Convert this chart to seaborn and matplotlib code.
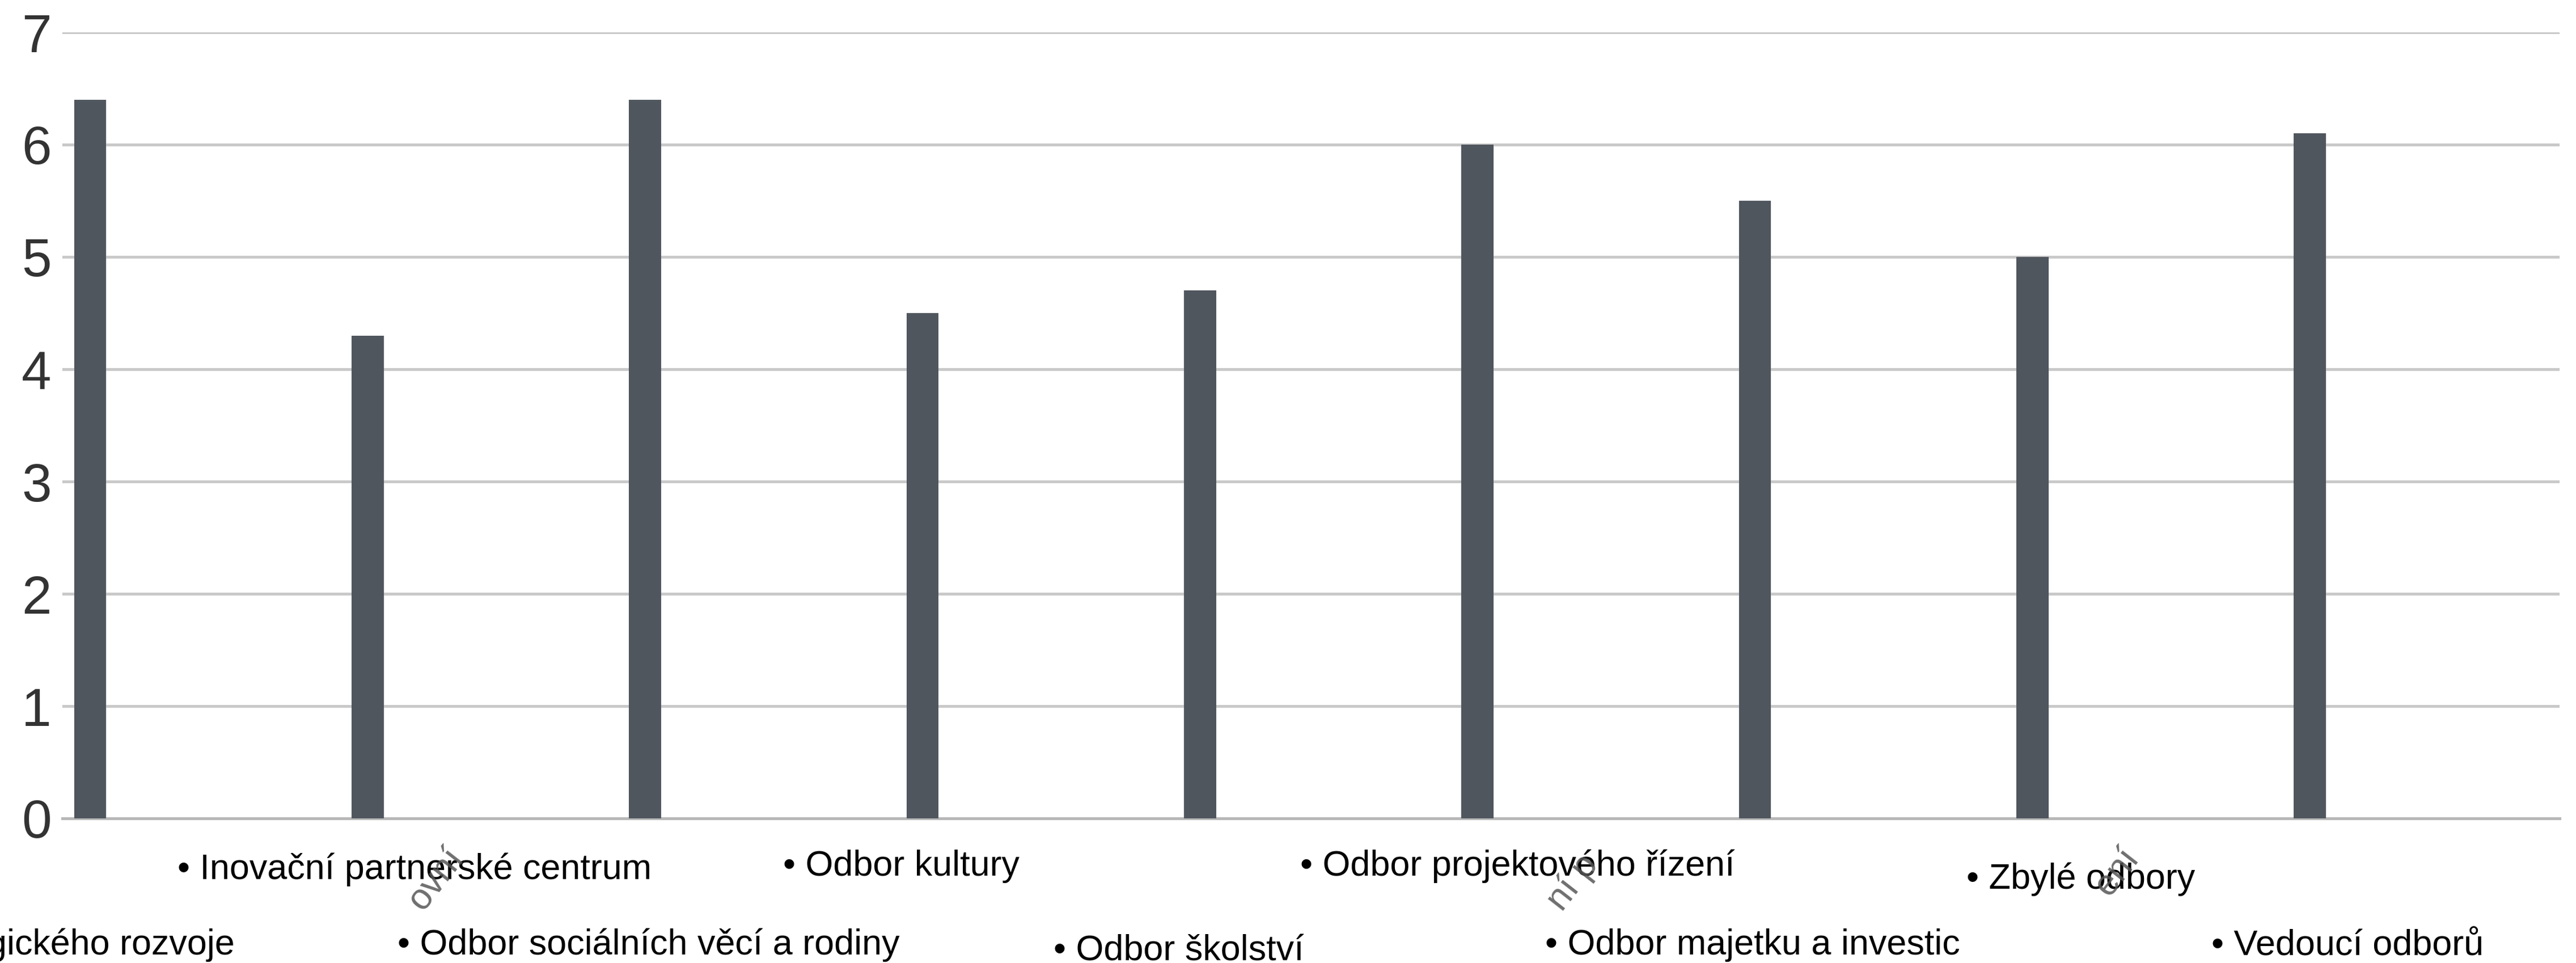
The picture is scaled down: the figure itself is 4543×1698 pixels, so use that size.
import matplotlib
matplotlib.use("Agg")
import matplotlib.pyplot as plt
from matplotlib import font_manager
from matplotlib.transforms import blended_transform_factory, Bbox
import seaborn as sns
import pandas as pd

# Departments and their average scores
kategorie = [
    "Odbor strategického rozvoje",
    "Inovační partnerské centrum",
    "Odbor sociálních věcí a rodiny",
    "Odbor kultury",
    "Odbor školství",
    "Odbor projektového řízení",
    "Odbor majetku a investic",
    "Zbylé odbory",
    "Vedoucí odborů",
]
hodnoty = [6.4, 4.3, 6.4, 4.5, 4.7, 6.0, 5.5, 5.0, 6.1]
y_ticks = [0, 1, 2, 3, 4, 5, 6, 7]

# Leftover ends of slanted axis captions peeking out under the legend text
zbytky_popisku = ["ovní", "ní p", "ení"]

# Placement of the category captions under the axis (data-x offset, figure-y px, alignment)
label_dx = [0.52, -0.686, -0.893, -0.503, -0.527, -0.639, -0.757, -0.237, -0.355]
label_base_px = [1683, 1550, 1683, 1544, 1694, 1544, 1683, 1567, 1683]
label_ha = ["right", "left", "left", "left", "left", "left", "left", "left", "left"]

# Anchor points (figure px) of the slanted caption ends
zbytky_xy = [(806, 1502), (2806, 1514), (3760, 1502)]

W, H, DPI = 4543, 1698, 100
BAR_COLOR = "#50565e"
GRID_COLOR = "#c9c9c9"

sns.set_theme(style="white")
names = {f.name for f in font_manager.fontManager.ttflist}
label_family = "Liberation Sans"
for cand in ["Liberation Sans Narrow", "Arial Narrow"]:
    if cand in names:
        label_family = cand
        break
plt.rcParams["font.family"] = ["Liberation Sans", "DejaVu Sans"]

df = pd.DataFrame({"kategorie": kategorie, "hodnota": hodnoty})

fig = plt.figure(figsize=(W / DPI, H / DPI), dpi=DPI)
ax = fig.add_axes([110 / W, 1 - 1443 / H, (4514 - 110) / W, (1443 - 57) / H])

sns.barplot(data=df, x="kategorie", y="hodnota", color=BAR_COLOR, saturation=1,
            width=0.116, ax=ax, zorder=3, linewidth=0)

ax.set_xlim(-0.1, 8.9)
ax.set_ylim(0, 7)
ax.set_yticks(y_ticks)
ax.set_yticklabels([str(v) for v in y_ticks], fontsize=68, color="#333333")
ax.tick_params(axis="y", length=0, pad=14)
ax.set_xticks(range(len(kategorie)))
ax.set_xticklabels([""] * len(kategorie))
ax.tick_params(axis="x", length=0)
ax.set_xlabel("")
ax.set_ylabel("")

ax.yaxis.grid(True, color=GRID_COLOR, linewidth=3.6, zorder=0)
ax.set_axisbelow(True)
for side in ["top", "right", "left"]:
    ax.spines[side].set_visible(False)
ax.spines["bottom"].set_color("#b8b8b8")
ax.spines["bottom"].set_linewidth(3.6)
ax.spines["bottom"].set_zorder(1)

# Slanted caption ends, cut off along a horizontal edge
clip = Bbox.from_extents(0, H - 1612, W, H - 1470)
for txt, (xp, yp) in zip(zbytky_popisku, zbytky_xy):
    t = fig.text(xp / W, 1 - yp / H, txt, rotation=52, rotation_mode="anchor",
                 ha="right", va="center", fontsize=46, color="#555555", alpha=0.85)
    t.set_clip_box(clip)
    t.set_clip_on(True)

trans = blended_transform_factory(ax.transData, fig.transFigure)
for i, (name, dx, ypx, ha) in enumerate(zip(kategorie, label_dx, label_base_px, label_ha)):
    ax.text(i + dx, 1 - ypx / H, "\u2022 " + name, transform=trans, ha=ha,
            va="baseline", fontsize=45.3, family=[label_family, "DejaVu Sans"],
            color="#000000", clip_on=False, zorder=5)

fig.savefig("out.png", dpi=DPI, facecolor="white")
